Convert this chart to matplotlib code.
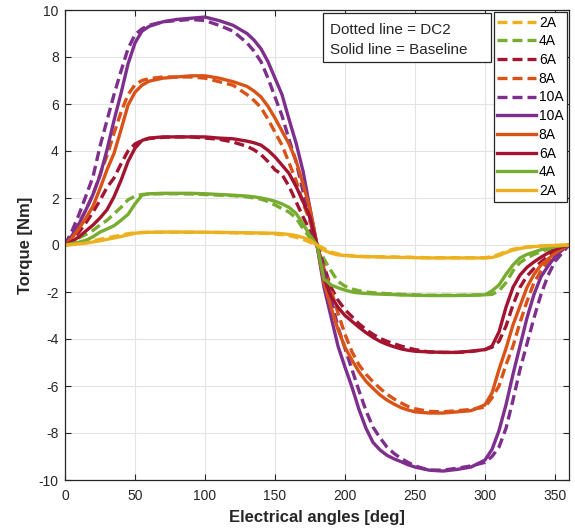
import matplotlib
matplotlib.use('Agg')
import matplotlib.pyplot as plt
from matplotlib.patches import Rectangle

plt.rcParams['font.family'] = ['Liberation Sans', 'DejaVu Sans']
plt.rcParams['axes.unicode_minus'] = False

# angles [deg]
angle = [0, 5, 10, 15, 20, 25, 30, 35, 40, 45, 50, 55, 60,
         70, 80, 90, 100, 110, 120, 130, 135, 140, 145, 150,
         155, 160, 165, 170, 175, 180, 185, 190, 195, 200, 205, 210, 215, 220, 225, 230, 235, 240, 245,
         250, 260, 270, 280, 290, 300,
         305, 310, 315, 320, 325, 330, 335, 340, 345, 350, 355, 360]

# DC2 (dashed)
dc2_2A = [0, 0.04, 0.08, 0.12, 0.18, 0.24, 0.3, 0.36, 0.42, 0.48, 0.52, 0.53, 0.54,
          0.54, 0.54, 0.54, 0.54, 0.53, 0.52, 0.51, 0.505, 0.5, 0.49, 0.47,
          0.44, 0.4, 0.33, 0.24, 0.12, 0, -0.15, -0.3, -0.38, -0.43, -0.46, -0.48, -0.49, -0.5, -0.5, -0.51, -0.51, -0.52, -0.52,
          -0.53, -0.54, -0.54, -0.54, -0.54, -0.54,
          -0.5, -0.4, -0.28, -0.18, -0.12, -0.08, -0.06, -0.04, -0.03, -0.02, -0.01, 0]
dc2_4A = [0, 0.15, 0.3, 0.45, 0.62, 0.85, 1.05, 1.33, 1.6, 1.92, 2.08, 2.15, 2.17,
          2.18, 2.18, 2.17, 2.15, 2.12, 2.1, 2.05, 2.0, 1.95, 1.85, 1.7,
          1.55, 1.4, 1.15, 0.7, 0.3, 0, -0.6, -1.1, -1.55, -1.75, -1.87, -1.95, -2.0, -2.03, -2.05, -2.07, -2.08, -2.1, -2.11,
          -2.12, -2.14, -2.14, -2.14, -2.13, -2.12,
          -2.1, -1.95, -1.6, -1.1, -0.75, -0.55, -0.4, -0.28, -0.18, -0.1, -0.04, 0]
dc2_6A = [0, 0.25, 0.55, 0.95, 1.4, 1.9, 2.45, 2.85, 3.45, 4.0, 4.3, 4.45, 4.53,
          4.58, 4.6, 4.6, 4.55, 4.5, 4.38, 4.2, 4.05, 3.85, 3.55, 3.2,
          3.0, 2.5, 1.85, 1.2, 0.6, 0, -0.9, -1.8, -2.35, -2.75, -3.05, -3.35, -3.6, -3.8, -3.97, -4.1, -4.2, -4.3, -4.38,
          -4.45, -4.55, -4.57, -4.57, -4.53, -4.45,
          -4.35, -4.1, -3.45, -2.55, -1.8, -1.32, -1.0, -0.72, -0.48, -0.27, -0.11, 0]
dc2_8A = [0, 0.45, 0.95, 1.5, 2.15, 3.0, 3.8, 4.75, 5.65, 6.4, 6.82, 7.0, 7.08,
          7.15, 7.15, 7.15, 7.1, 6.95, 6.8, 6.4, 6.15, 5.85, 5.35, 4.8,
          4.25, 3.5, 2.75, 1.8, 1.0, 0, -1.0, -1.9, -2.9, -3.8, -4.55, -5.1, -5.5, -5.82, -6.1, -6.35, -6.55, -6.72, -6.87,
          -6.97, -7.08, -7.1, -7.05, -7.0, -6.9,
          -6.5, -6.0, -5.1, -4.3, -3.3, -2.4, -1.6, -1.1, -0.7, -0.45, -0.2, 0]
dc2_10A = [0, 0.6, 1.3, 2.1, 2.9, 4.2, 5.3, 6.4, 7.4, 8.35, 8.95, 9.2, 9.35,
           9.5, 9.55, 9.6, 9.55, 9.35, 9.1, 8.6, 8.25, 7.8, 7.1, 6.3,
           5.5, 4.5, 3.55, 2.3, 1.1, 0, -1.1, -2.3, -3.5, -4.4, -5.3, -6.2, -7.05, -7.75, -8.2, -8.6, -8.87, -9.08, -9.25,
           -9.4, -9.58, -9.58, -9.5, -9.4, -9.25,
           -9.0, -8.6, -7.8, -6.6, -5.3, -4.2, -3.1, -2.1, -1.3, -0.7, -0.35, 0]

# Baseline (solid)
base_10A = [0, 0.4, 0.9, 1.5, 2.15, 2.95, 4.05, 5.3, 6.45, 7.7, 8.6, 9.1, 9.3,
            9.5, 9.6, 9.65, 9.7, 9.55, 9.35, 9.0, 8.72, 8.35, 7.8, 7.1,
            6.4, 5.35, 4.35, 3.15, 1.55, 0, -1.8, -3.05, -4.3, -5.2, -6.05, -7.0, -7.8, -8.4, -8.72, -8.95, -9.1, -9.22, -9.35,
            -9.45, -9.58, -9.62, -9.55, -9.45, -9.15,
            -8.7, -7.9, -6.8, -5.5, -4.3, -3.1, -2.1, -1.35, -0.9, -0.5, -0.22, 0]
base_8A = [0, 0.3, 0.7, 1.15, 1.65, 2.4, 3.2, 3.9, 4.9, 5.95, 6.5, 6.8, 6.97,
           7.1, 7.15, 7.2, 7.2, 7.1, 6.95, 6.75, 6.55, 6.3, 5.9, 5.4,
           4.85, 4.3, 3.6, 2.6, 1.55, 0, -1.6, -2.65, -3.6, -4.35, -4.9, -5.4, -5.8, -6.1, -6.38, -6.6, -6.77, -6.92, -7.02,
           -7.1, -7.15, -7.15, -7.1, -7.05, -6.8,
           -6.3, -5.3, -4.4, -3.4, -2.6, -1.8, -1.25, -0.85, -0.6, -0.35, -0.15, 0]
base_6A = [0, 0.15, 0.35, 0.6, 0.85, 1.15, 1.5, 2.05, 2.75, 3.55, 4.12, 4.45, 4.55,
           4.6, 4.6, 4.6, 4.6, 4.55, 4.52, 4.42, 4.35, 4.25, 4.03, 3.75,
           3.4, 3.05, 2.5, 1.85, 1.2, 0, -1.4, -2.2, -2.65, -3.0, -3.25, -3.5, -3.73, -3.93, -4.1, -4.23, -4.33, -4.42, -4.48,
           -4.52, -4.55, -4.57, -4.57, -4.52, -4.45,
           -4.3, -3.7, -2.65, -1.8, -1.28, -0.95, -0.72, -0.52, -0.34, -0.2, -0.08, 0]
base_4A = [0, 0.06, 0.12, 0.2, 0.35, 0.55, 0.68, 0.82, 1.05, 1.3, 1.75, 2.12, 2.18,
           2.2, 2.2, 2.2, 2.18, 2.15, 2.12, 2.08, 2.05, 2.0, 1.94, 1.86,
           1.75, 1.6, 1.35, 0.9, 0.4, 0, -1.45, -1.7, -1.82, -1.92, -2.0, -2.04, -2.06, -2.08, -2.09, -2.1, -2.11, -2.13, -2.13,
           -2.14, -2.15, -2.15, -2.15, -2.14, -2.12,
           -1.95, -1.7, -1.25, -0.85, -0.55, -0.4, -0.3, -0.2, -0.13, -0.07, -0.03, 0]
base_2A = [0, 0.02, 0.05, 0.08, 0.13, 0.18, 0.24, 0.3, 0.36, 0.43, 0.5, 0.53, 0.54,
           0.55, 0.55, 0.55, 0.54, 0.54, 0.53, 0.52, 0.515, 0.51, 0.505, 0.5,
           0.48, 0.45, 0.4, 0.32, 0.2, 0, -0.22, -0.35, -0.42, -0.45, -0.47, -0.49, -0.5, -0.5, -0.51, -0.52, -0.52, -0.53, -0.53,
           -0.54, -0.55, -0.55, -0.55, -0.55, -0.55,
           -0.53, -0.45, -0.32, -0.22, -0.15, -0.1, -0.07, -0.05, -0.03, -0.02, -0.01, 0]

yellow = '#EDB120'
green = '#77AC30'
red = '#A2142F'
orange = '#D95319'
purple = '#7E2F8E'

fig = plt.figure(figsize=(5.75, 5.32), dpi=100)
ax = fig.add_axes([65/575, 52/532, 504/575, 470/532])

dashed = [(dc2_2A, yellow, '2A'), (dc2_4A, green, '4A'), (dc2_6A, red, '6A'),
          (dc2_8A, orange, '8A'), (dc2_10A, purple, '10A')]
solid = [(base_10A, purple, '10A'), (base_8A, orange, '8A'), (base_6A, red, '6A'),
         (base_4A, green, '4A'), (base_2A, yellow, '2A')]

for vals, c, lab in dashed:
    ax.plot(angle, vals, color=c, lw=2.4, linestyle=(0, (3, 1.5)), label=lab)
for vals, c, lab in solid:
    ax.plot(angle, vals, color=c, lw=2.4, label=lab)

ax.set_xlim(0, 360)
ax.set_ylim(-10, 10)
ax.set_xticks(range(0, 351, 50))
ax.set_yticks(range(-10, 11, 2))
ax.grid(True, color='#e3e3e3', lw=0.8)
ax.set_axisbelow(True)
ax.tick_params(direction='in', top=True, right=True, length=4, width=0.8,
               labelsize=10, colors='#262626')
ax.tick_params(axis='x', pad=6.5)
ax.tick_params(axis='y', pad=4.5)
for s in ax.spines.values():
    s.set_color('#262626')
    s.set_linewidth(0.9)

ax.set_xlabel('Electrical angles [deg]', fontsize=12, fontweight='bold', color='#262626', labelpad=5)
ax.set_ylabel('Torque [Nm]', fontsize=12, fontweight='bold', color='#262626', labelpad=4)

leg = ax.legend(loc='upper right', fontsize=10, fancybox=False, framealpha=1,
                edgecolor='#262626', handlelength=2.8, handletextpad=0.2,
                labelspacing=0.34, borderpad=0.25, borderaxespad=0.15)
leg.get_frame().set_linewidth(0.9)

# annotation box
ax.add_patch(Rectangle((0.512, 0.8894), 0.3333, 0.1042, transform=ax.transAxes,
                       fc='white', ec='#262626', lw=0.9, zorder=5))
ax.text(0.526, 0.957, 'Dotted line = DC2', transform=ax.transAxes, fontsize=11,
        va='center', ha='left', color='#262626', zorder=6)
ax.text(0.526, 0.915, 'Solid line = Baseline', transform=ax.transAxes, fontsize=11,
        va='center', ha='left', color='#262626', zorder=6)

plt.savefig('out.png', dpi=100)
